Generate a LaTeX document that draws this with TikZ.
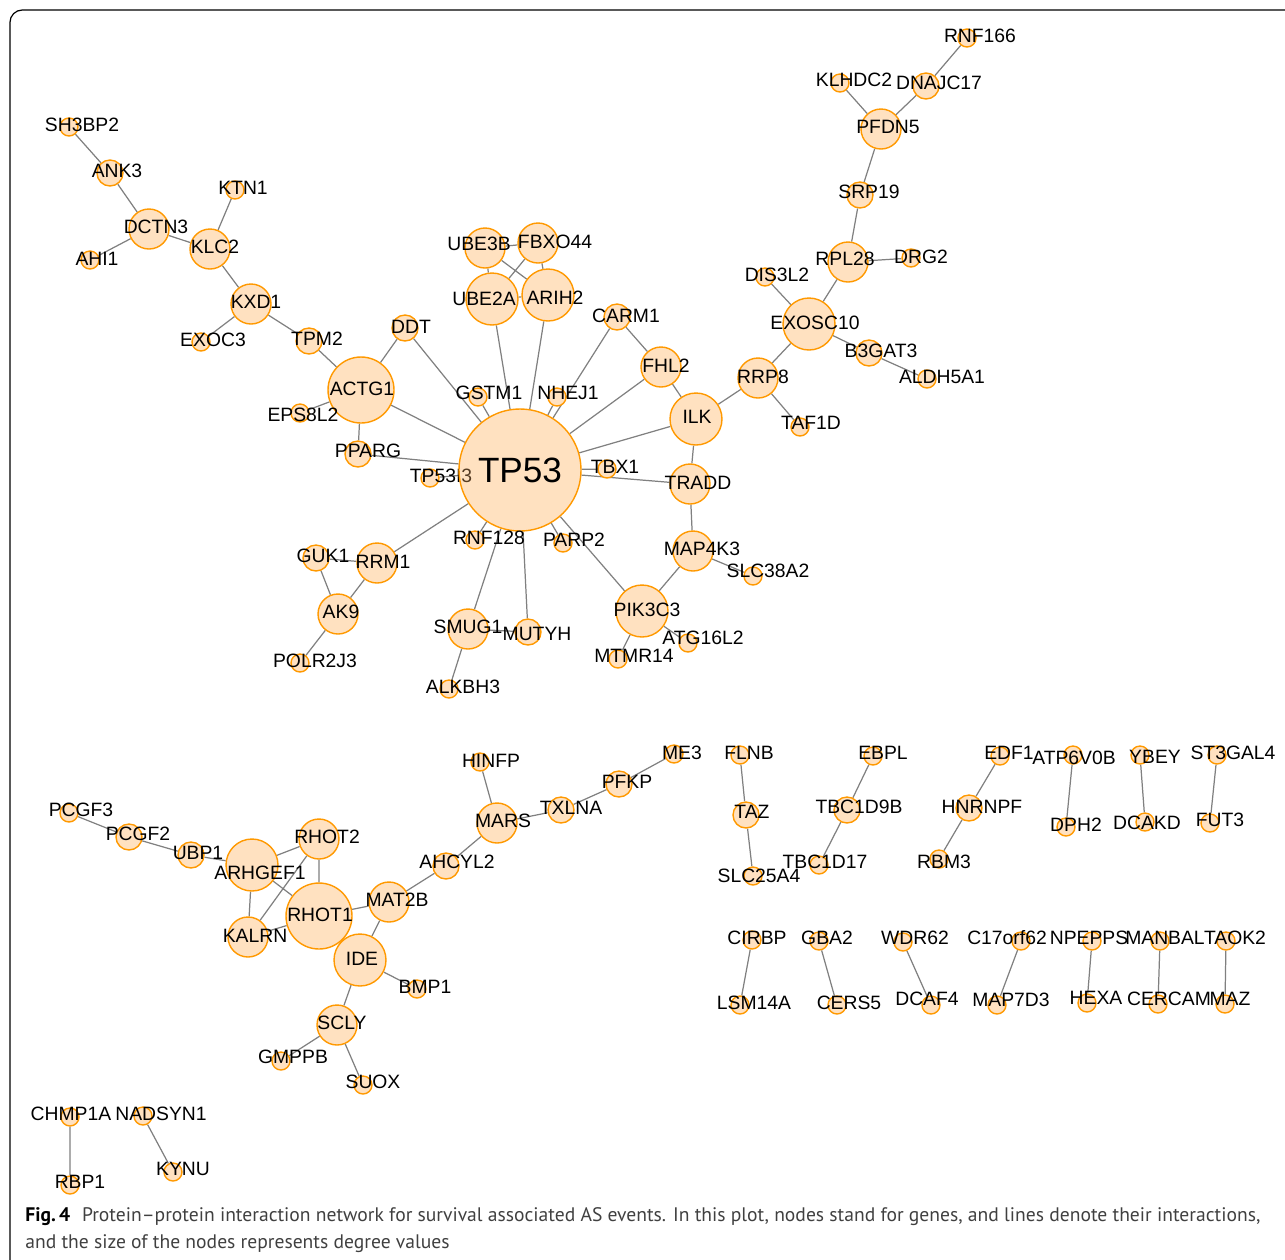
\documentclass[tikz,border=0pt]{standalone}
\usepackage{fontspec}
\setmainfont{Liberation Sans}
\newfontfamily\capfont{PT Sans}
\usetikzlibrary{backgrounds}
\definecolor{nodofondo}{RGB}{255,225,192}
\definecolor{nodoborde}{RGB}{255,153,0}
\definecolor{arista}{RGB}{128,128,128}
\definecolor{texto}{RGB}{64,64,64}
\definecolor{oculto}{RGB}{85,60,35}
\begin{document}
\begin{tikzpicture}[x=0.02cm, y=-0.02cm,
    gen/.style={circle, draw=nodoborde, fill=nodofondo, line width=0.8pt, inner sep=0pt},
    deg1/.style={gen, minimum size=0.36cm},
    deg2/.style={gen, minimum size=0.52cm},
    deg3/.style={gen, minimum size=0.80cm},
    deg4/.style={gen, minimum size=1.04cm},
    deg5/.style={gen, minimum size=1.32cm},
    hub/.style={gen, minimum size=2.44cm, font=\fontsize{20}{22}\selectfont},
    lbl/.style={inner sep=0pt, font=\fontsize{11}{13}\selectfont},
    enlace/.style={draw=arista, line width=0.7pt}]
    \useasboundingbox (0,0) rectangle (1285,1259);

    % Marco
    \draw[line width=0.7pt, rounded corners=7pt] (10,1270) -- (10,10) -- (1300,10);

    % Red principal (TP53)
    \node[deg1] (SH3BP2) at (69,127) {};   \node[lbl] (SH3BP2-t) at (82,125) {SH3BP2};
    \node[deg2] (ANK3) at (110,173) {};    \node[lbl] (ANK3-t) at (117,171) {ANK3};
    \node[deg3] (DCTN3) at (149,229) {};   \node[lbl] (DCTN3-t) at (156,227) {DCTN3};
    \node[deg1] (AHI1) at (90,260) {};     \node[lbl] (AHI1-t) at (97,259) {AHI1};
    \node[deg3] (KLC2) at (210,249) {};    \node[lbl] (KLC2-t) at (215,247) {KLC2};
    \node[deg1] (KTN1) at (235,190) {};    \node[lbl] (KTN1-t) at (243,188) {KTN1};
    \node[deg3] (KXD1) at (251,304) {};    \node[lbl] (KXD1-t) at (256,302) {KXD1};
    \node[deg1] (EXOC3) at (201,342) {};   \node[lbl] (EXOC3-t) at (213,340) {EXOC3};
    \node[deg2] (TPM2) at (309,341) {};    \node[lbl] (TPM2-t) at (317,339) {TPM2};
    \node[deg5] (ACTG1) at (361,390) {};   \node[lbl] (ACTG1-t) at (362,389) {ACTG1};
    \node[deg1] (EPS8L2) at (300,413) {};  \node[lbl] (EPS8L2-t) at (303,415) {EPS8L2};
    \node[deg2] (DDT) at (405,328) {};     \node[lbl] (DDT-t) at (411,327) {DDT};
    \node[deg2] (PPARG) at (358,454) {};   \node[lbl] (PPARG-t) at (368,451) {PPARG};
    \node[deg1] (GSTM1) at (478,397) {};   \node[lbl] (GSTM1-t) at (489,393) {GSTM1};
    \node[deg1] (TP53I3) at (430,478) {};  \node[lbl] (TP53I3-t) at (441,476) {TP53I3};
    \node[hub] (TP53) at (520,470) {TP53};
    \begin{scope}
        \clip (TP53.center) circle[radius=1.2cm];
        \node[lbl, text=oculto] (TP53I3-s) at (441,476) {TP53I3};
    \end{scope}
    \node[deg1] (RNF128) at (475,540) {};  \node[lbl] (RNF128-t) at (489,538) {RNF128};
    \node[deg3] (UBE3B) at (485,248) {};   \node[lbl] (UBE3B-t) at (479,244) {UBE3B};
    \node[deg3] (FBXO44) at (538,243) {};  \node[lbl] (FBXO44-t) at (555,242) {FBXO44};
    \node[deg4] (UBE2A) at (492,299) {};   \node[lbl] (UBE2A-t) at (484,299) {UBE2A};
    \node[deg4] (ARIH2) at (548,295) {};   \node[lbl] (ARIH2-t) at (555,298) {ARIH2};
    \node[deg2] (CARM1) at (617,317) {};   \node[lbl] (CARM1-t) at (626,316) {CARM1};
    \node[deg1] (NHEJ1) at (557,397) {};   \node[lbl] (NHEJ1-t) at (568,393) {NHEJ1};
    \node[deg3] (FHL2) at (661,367) {};    \node[lbl] (FHL2-t) at (666,366) {FHL2};
    \node[deg4] (ILK) at (696,419) {};     \node[lbl] (ILK-t) at (697,417) {ILK};
    \node[deg1] (TBX1) at (607,469) {};    \node[lbl] (TBX1-t) at (615,467) {TBX1};
    \node[deg3] (TRADD) at (690,484) {};   \node[lbl] (TRADD-t) at (698,483) {TRADD};
    \node[deg3] (RRP8) at (758,378) {};    \node[lbl] (RRP8-t) at (763,377) {RRP8};
    \node[deg1] (TAF1D) at (800,427) {};   \node[lbl] (TAF1D-t) at (811,423) {TAF1D};
    \node[deg4] (EXOSC10) at (809,324) {}; \node[lbl] (EXOSC10-t) at (815,323) {EXOSC10};
    \node[deg1] (DIS3L2) at (765,277) {};  \node[lbl] (DIS3L2-t) at (777,275) {DIS3L2};
    \node[deg3] (RPL28) at (848,262) {};   \node[lbl] (RPL28-t) at (845,259) {RPL28};
    \node[deg1] (DRG2) at (911,258) {};    \node[lbl] (DRG2-t) at (921,257) {DRG2};
    \node[deg2] (SRP19) at (860,195) {};   \node[lbl] (SRP19-t) at (869,192) {SRP19};
    \node[deg3] (PFDN5) at (881,129) {};   \node[lbl] (PFDN5-t) at (888,127) {PFDN5};
    \node[deg1] (KLHDC2) at (840,83) {};   \node[lbl] (KLHDC2-t) at (854,80) {KLHDC2};
    \node[deg2] (DNAJC17) at (926,86) {};  \node[lbl] (DNAJC17-t) at (939,83) {DNAJC17};
    \node[deg1] (RNF166) at (967,38) {};   \node[lbl] (RNF166-t) at (980,36) {RNF166};
    \node[deg2] (B3GAT3) at (869,353) {};  \node[lbl] (B3GAT3-t) at (881,351) {B3GAT3};
    \node[deg1] (ALDH5A1) at (927,379) {}; \node[lbl] (ALDH5A1-t) at (942,377) {ALDH5A1};
    \node[deg1] (PARP2) at (563,543) {};   \node[lbl] (PARP2-t) at (574,540) {PARP2};
    \node[deg2] (GUK1) at (316,558) {};    \node[lbl] (GUK1-t) at (323,556) {GUK1};
    \node[deg3] (RRM1) at (377,563) {};    \node[lbl] (RRM1-t) at (383,562) {RRM1};
    \node[deg3] (AK9) at (338,614) {};     \node[lbl] (AK9-t) at (341,612) {AK9};
    \node[deg1] (POLR2J3) at (300,663) {}; \node[lbl] (POLR2J3-t) at (315,661) {POLR2J3};
    \node[deg3] (SMUG1) at (468,629) {};   \node[lbl] (SMUG1-t) at (468,627) {SMUG1};
    \node[deg2] (MUTYH) at (528,632) {};   \node[lbl] (MUTYH-t) at (537,634) {MUTYH};
    \node[deg1] (ALKBH3) at (449,689) {};  \node[lbl] (ALKBH3-t) at (463,687) {ALKBH3};
    \node[deg3] (MAP4K3) at (693,551) {};  \node[lbl] (MAP4K3-t) at (702,549) {MAP4K3};
    \node[deg1] (SLC38A2) at (753,576) {}; \node[lbl] (SLC38A2-t) at (768,571) {SLC38A2};
    \node[deg4] (PIK3C3) at (642,611) {};  \node[lbl] (PIK3C3-t) at (647,610) {PIK3C3};
    \node[deg1] (ATG16L2) at (688,643) {}; \node[lbl] (ATG16L2-t) at (703,638) {ATG16L2};
    \node[deg1] (MTMR14) at (618,659) {};  \node[lbl] (MTMR14-t) at (634,656) {MTMR14};

    % Segunda red (RHOT1)
    \node[deg1] (PCGF3) at (69,813) {};    \node[lbl] (PCGF3-t) at (81,810) {PCGF3};
    \node[deg2] (PCGF2) at (129,837) {};   \node[lbl] (PCGF2-t) at (138,834) {PCGF2};
    \node[deg2] (UBP1) at (191,855) {};    \node[lbl] (UBP1-t) at (198,853) {UBP1};
    \node[deg4] (ARHGEF1) at (252,865) {}; \node[lbl] (ARHGEF1-t) at (260,873) {ARHGEF1};
    \node[deg3] (RHOT2) at (319,839) {};   \node[lbl] (RHOT2-t) at (327,837) {RHOT2};
    \node[deg5] (RHOT1) at (319,916) {};   \node[lbl] (RHOT1-t) at (320,915) {RHOT1};
    \node[deg3] (KALRN) at (248,937) {};   \node[lbl] (KALRN-t) at (255,936) {KALRN};
    \node[deg3] (MAT2B) at (389,902) {};   \node[lbl] (MAT2B-t) at (397,900) {MAT2B};
    \node[deg2] (AHCYL2) at (446,866) {};  \node[lbl] (AHCYL2-t) at (457,862) {AHCYL2};
    \node[deg4] (IDE) at (360,960) {};     \node[lbl] (IDE-t) at (362,959) {IDE};
    \node[deg1] (BMP1) at (417,989) {};    \node[lbl] (BMP1-t) at (425,987) {BMP1};
    \node[deg3] (SCLY) at (337,1025) {};   \node[lbl] (SCLY-t) at (342,1023) {SCLY};
    \node[deg1] (GMPPB) at (281,1061) {};  \node[lbl] (GMPPB-t) at (293,1057) {GMPPB};
    \node[deg1] (SUOX) at (363,1085) {};   \node[lbl] (SUOX-t) at (373,1082) {SUOX};
    \node[deg3] (MARS) at (497,823) {};    \node[lbl] (MARS-t) at (503,821) {MARS};
    \node[deg1] (HINFP) at (480,762) {};   \node[lbl] (HINFP-t) at (491,761) {HINFP};
    \node[deg2] (TXLNA) at (561,810) {};   \node[lbl] (TXLNA-t) at (571,808) {TXLNA};
    \node[deg2] (PFKP) at (619,784) {};    \node[lbl] (PFKP-t) at (627,782) {PFKP};
    \node[deg1] (ME3) at (674,754) {};     \node[lbl] (ME3-t) at (682,753) {ME3};

    % Pares y trios sueltos
    \node[deg1] (FLNB) at (740,755) {};    \node[lbl] (FLNB-t) at (749,753) {FLNB};
    \node[deg2] (TAZ) at (746,815) {};     \node[lbl] (TAZ-t) at (752,812) {TAZ};
    \node[deg1] (SLC25A4) at (753,876) {}; \node[lbl] (SLC25A4-t) at (759,876) {SLC25A4};
    \node[deg1] (EBPL) at (873,756) {};    \node[lbl] (EBPL-t) at (883,753) {EBPL};
    \node[deg2] (TBC1D9B) at (847,810) {}; \node[lbl] (TBC1D9B-t) at (859,807) {TBC1D9B};
    \node[deg1] (TBC1D17) at (819,865) {}; \node[lbl] (TBC1D17-t) at (825,862) {TBC1D17};
    \node[deg1] (EDF1) at (1000,756) {};   \node[lbl] (EDF1-t) at (1009,753) {EDF1};
    \node[deg2] (HNRNPF) at (969,808) {};  \node[lbl] (HNRNPF-t) at (982,807) {HNRNPF};
    \node[deg1] (RBM3) at (939,859) {};    \node[lbl] (RBM3-t) at (944,862) {RBM3};
    \node[deg1] (ATP6V0B) at (1073,755) {}; \node[lbl] (ATP6V0B-t) at (1074,758) {ATP6V0B};
    \node[deg1] (DPH2) at (1066,827) {};   \node[lbl] (DPH2-t) at (1076,825) {DPH2};
    \node[deg1] (YBEY) at (1140,755) {};   \node[lbl] (YBEY-t) at (1155,757) {YBEY};
    \node[deg1] (DCAKD) at (1145,822) {};  \node[lbl] (DCAKD-t) at (1147,823) {DCAKD};
    \node[deg1] (ST3GAL4) at (1217,755) {}; \node[lbl] (ST3GAL4-t) at (1233,753) {ST3GAL4};
    \node[deg1] (FUT3) at (1210,823) {};   \node[lbl] (FUT3-t) at (1220,820) {FUT3};
    \node[deg1] (CIRBP) at (752,940) {};   \node[lbl] (CIRBP-t) at (757,938) {CIRBP};
    \node[deg1] (LSM14A) at (740,1005) {}; \node[lbl] (LSM14A-t) at (754,1003) {LSM14A};
    \node[deg1] (GBA2) at (819,941) {};    \node[lbl] (GBA2-t) at (827,938) {GBA2};
    \node[deg1] (CERS5) at (837,1005) {};  \node[lbl] (CERS5-t) at (849,1003) {CERS5};
    \node[deg1] (WDR62) at (903,942) {};   \node[lbl] (WDR62-t) at (915,938) {WDR62};
    \node[deg1] (DCAF4) at (931,1005) {};  \node[lbl] (DCAF4-t) at (927,999) {DCAF4};
    \node[deg1] (C17orf62) at (1021,941) {}; \node[lbl] (C17orf62-t) at (1007,938) {C17orf62};
    \node[deg1] (MAP7D3) at (997,1005) {}; \node[lbl] (MAP7D3-t) at (1011,1000) {MAP7D3};
    \node[deg1] (NPEPPS) at (1092,941) {}; \node[lbl] (NPEPPS-t) at (1089,938) {NPEPPS};
    \node[deg1] (HEXA) at (1087,1003) {};  \node[lbl] (HEXA-t) at (1096,998) {HEXA};
    \node[deg1] (MANBAL) at (1160,941) {}; \node[lbl] (MANBAL-t) at (1165,938) {MANBAL};
    \node[deg1] (CERCAM) at (1158,1004) {}; \node[lbl] (CERCAM-t) at (1169,999) {CERCAM};
    \node[deg1] (TAOK2) at (1226,941) {};  \node[lbl] (TAOK2-t) at (1235,938) {TAOK2};
    \node[deg1] (MAZ) at (1225,1004) {};   \node[lbl] (MAZ-t) at (1230,999) {MAZ};
    \node[deg1] (CHMP1A) at (70,1117) {};  \node[lbl] (CHMP1A-t) at (71,1114) {CHMP1A};
    \node[deg1] (RBP1) at (70,1185) {};    \node[lbl] (RBP1-t) at (80,1182) {RBP1};
    \node[deg1] (NADSYN1) at (143,1116) {}; \node[lbl] (NADSYN1-t) at (161,1114) {NADSYN1};
    \node[deg1] (KYNU) at (173,1172) {};   \node[lbl] (KYNU-t) at (183,1169) {KYNU};

    % Aristas (debajo de los nodos)
    \begin{pgfonlayer}{background}
    \path[enlace] (SH3BP2) -- (ANK3) (ANK3) -- (DCTN3) (DCTN3) -- (AHI1) (DCTN3) -- (KLC2)
        (KLC2) -- (KTN1) (KLC2) -- (KXD1) (KXD1) -- (EXOC3) (KXD1) -- (TPM2) (TPM2) -- (ACTG1)
        (ACTG1) -- (DDT) (ACTG1) -- (EPS8L2) (ACTG1) -- (PPARG) (ACTG1) -- (TP53);
    \path[enlace] (TP53) -- (DDT) (TP53) -- (GSTM1) (TP53) -- (PPARG) (TP53) -- (TP53I3)
        (TP53) -- (UBE2A) (TP53) -- (ARIH2) (TP53) -- (NHEJ1) (TP53) -- (CARM1) (TP53) -- (FHL2)
        (TP53) -- (ILK) (TP53) -- (TBX1) (TP53) -- (TRADD) (TP53) -- (PIK3C3) (TP53) -- (PARP2)
        (TP53) -- (MUTYH) (TP53) -- (SMUG1) (TP53) -- (RNF128) (TP53) -- (RRM1);
    \path[enlace] (UBE3B) -- (FBXO44) (UBE3B) -- (UBE2A) (UBE3B) -- (ARIH2) (FBXO44) -- (UBE2A)
        (FBXO44) -- (ARIH2) (UBE2A) -- (ARIH2);
    \path[enlace] (CARM1) -- (FHL2) (FHL2) -- (ILK) (ILK) -- (RRP8) (ILK) -- (TRADD)
        (RRP8) -- (TAF1D) (RRP8) -- (EXOSC10) (EXOSC10) -- (DIS3L2) (EXOSC10) -- (RPL28)
        (EXOSC10) -- (B3GAT3) (B3GAT3) -- (ALDH5A1) (RPL28) -- (DRG2) (RPL28) -- (SRP19)
        (SRP19) -- (PFDN5) (PFDN5) -- (KLHDC2) (PFDN5) -- (DNAJC17) (DNAJC17) -- (RNF166);
    \path[enlace] (TRADD) -- (MAP4K3) (MAP4K3) -- (SLC38A2) (MAP4K3) -- (PIK3C3)
        (PIK3C3) -- (ATG16L2) (PIK3C3) -- (MTMR14) (SMUG1) -- (MUTYH) (SMUG1) -- (ALKBH3)
        (RRM1) -- (GUK1) (RRM1) -- (AK9) (GUK1) -- (AK9) (AK9) -- (POLR2J3);
    \path[enlace] (PCGF3) -- (PCGF2) (PCGF2) -- (UBP1) (UBP1) -- (ARHGEF1) (ARHGEF1) -- (RHOT2)
        (ARHGEF1) -- (RHOT1) (ARHGEF1) -- (KALRN) (RHOT2) -- (RHOT1) (RHOT2) -- (KALRN)
        (KALRN) -- (RHOT1) (RHOT1) -- (MAT2B) (RHOT1) -- (IDE) (MAT2B) -- (IDE)
        (MAT2B) -- (AHCYL2) (IDE) -- (BMP1) (IDE) -- (SCLY) (SCLY) -- (GMPPB) (SCLY) -- (SUOX)
        (AHCYL2) -- (MARS) (MARS) -- (HINFP) (MARS) -- (TXLNA) (TXLNA) -- (PFKP) (PFKP) -- (ME3);
    \path[enlace] (FLNB) -- (TAZ) (TAZ) -- (SLC25A4) (EBPL) -- (TBC1D9B) (TBC1D9B) -- (TBC1D17)
        (EDF1) -- (HNRNPF) (HNRNPF) -- (RBM3) (ATP6V0B) -- (DPH2) (YBEY) -- (DCAKD)
        (ST3GAL4) -- (FUT3) (CIRBP) -- (LSM14A) (GBA2) -- (CERS5) (WDR62) -- (DCAF4)
        (C17orf62) -- (MAP7D3) (NPEPPS) -- (HEXA) (MANBAL) -- (CERCAM) (TAOK2) -- (MAZ)
        (CHMP1A) -- (RBP1) (NADSYN1) -- (KYNU);
    \end{pgfonlayer}

    % Pie de figura
    \node[anchor=base west, inner sep=0pt, font=\capfont\fontsize{11.15}{13}\selectfont, text=texto] (pie1) at (25,1221)
        {{\color{black}\bfseries Fig.\,4}\hspace{0.6em}Protein–protein interaction network for survival associated AS events. In this plot, nodes stand for genes, and lines denote their interactions,};
    \node[anchor=base west, inner sep=0pt, font=\capfont\fontsize{11.15}{13}\selectfont, text=texto] (pie2) at (25,1248)
        {and the size of the nodes represents degree values};
\end{tikzpicture}
\end{document}
